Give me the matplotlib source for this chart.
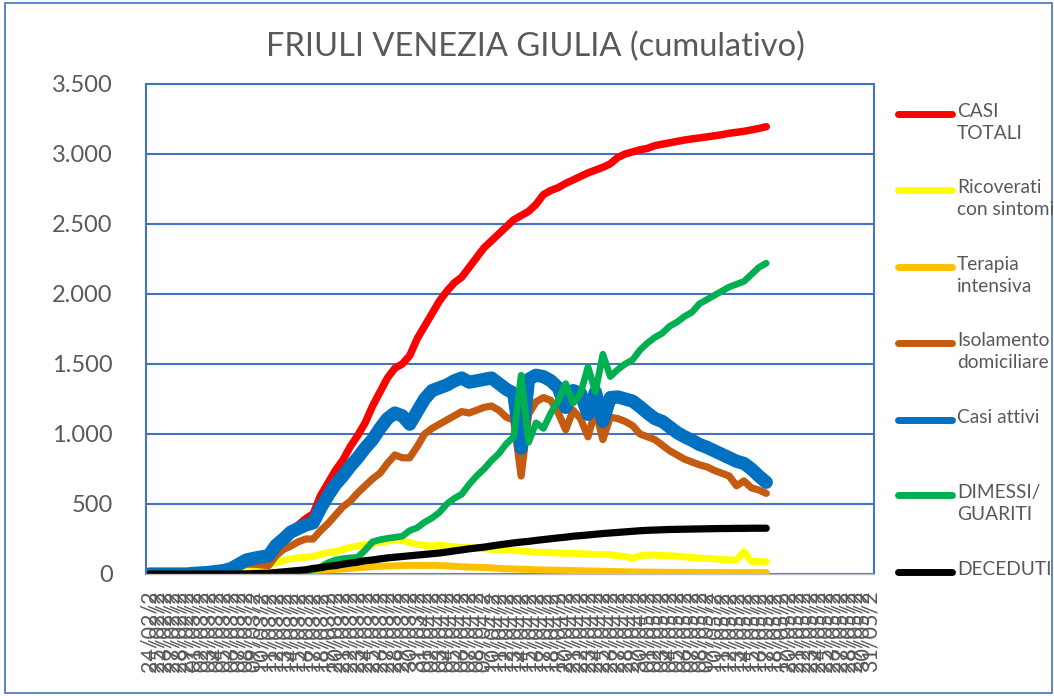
import pandas as pd
import matplotlib
matplotlib.use("Agg")
from matplotlib import pyplot as plt
from matplotlib.lines import Line2D
from matplotlib.patches import Rectangle
from matplotlib.ticker import FuncFormatter

plt.rcParams['font.family'] = ['Lato', 'DejaVu Sans']

# categories: one per day, 24/02/2020 -> 31/05/2020 (Excel cuts the labels to 7 chars)
dates = pd.date_range("2020-02-24", "2020-05-31", freq="D")
date_labels = [d.strftime("%d/%m/%Y")[:7] for d in dates]

# daily values 24/02 -> 17/05 (84 days)
casi_totali = [0, 0, 0, 0, 0, 0, 5, 8, 12, 18,
               25, 40, 70, 100, 115, 125, 135, 215, 265, 305,
               350, 395, 430, 560, 650, 740, 814, 910, 990, 1080,
               1200, 1300, 1400, 1470, 1500, 1560, 1680, 1770, 1860, 1950,
               2020, 2080, 2120, 2190, 2260, 2330, 2380, 2430, 2480, 2530,
               2560, 2590, 2640, 2710, 2740, 2760, 2790, 2815, 2840, 2865,
               2885, 2905, 2930, 2975, 3000, 3015, 3030, 3040, 3060, 3070,
               3080, 3090, 3100, 3108, 3115, 3122, 3130, 3138, 3148, 3155,
               3162, 3172, 3183, 3195]
ricoverati = [0, 0, 0, 0, 0, 0, 0, 0, 1, 2,
              3, 5, 10, 25, 40, 55, 70, 80, 95, 110,
              115, 120, 125, 140, 152, 160, 175, 190, 200, 210,
              219, 225, 235, 243, 240, 225, 210, 205, 200, 207,
              200, 195, 190, 190, 185, 180, 178, 175, 171, 168,
              165, 160, 155, 155, 152, 150, 148, 148, 145, 142,
              140, 140, 138, 130, 125, 112, 130, 136, 135, 132,
              131, 128, 122, 118, 114, 112, 108, 104, 100, 100,
              160, 90, 88, 88]
terapia = [0, 0, 0, 0, 0, 0, 0, 0, 0, 0,
           0, 0, 0, 0, 5, 8, 10, 12, 15, 18,
           20, 22, 25, 28, 30, 33, 36, 40, 45, 48,
           52, 55, 57, 58, 60, 61, 61, 60, 62, 60,
           58, 55, 52, 50, 48, 46, 44, 40, 38, 36,
           34, 33, 30, 29, 28, 27, 26, 24, 23, 22,
           21, 19, 18, 17, 16, 15, 14, 14, 13, 13,
           12, 12, 12, 12, 11, 11, 11, 11, 10, 10,
           10, 10, 10, 10]
isolamento = [0, 0, 0, 0, 0, 0, 3, 5, 8, 12,
              18, 30, 50, 70, 70, 65, 60, 130, 175, 200,
              230, 250, 250, 310, 360, 420, 480, 520, 580, 630,
              680, 720, 790, 850, 830, 830, 910, 1000, 1040, 1070,
              1100, 1130, 1160, 1150, 1170, 1190, 1200, 1170, 1120, 1100,
              700, 1140, 1230, 1260, 1240, 1150, 1030, 1170, 1110, 980,
              1170, 960, 1120, 1110, 1090, 1060, 1000, 980, 960, 920,
              880, 850, 820, 800, 780, 765, 740, 720, 700, 630,
              665, 615, 600, 576]
casi_attivi = [0, 0, 0, 0, 0, 0, 5, 8, 12, 18,
               25, 40, 70, 100, 112, 122, 130, 205, 250, 300,
               325, 350, 365, 470, 560, 640, 700, 770, 830, 900,
               960, 1040, 1110, 1150, 1130, 1070, 1160, 1250, 1310, 1330,
               1350, 1380, 1400, 1370, 1380, 1390, 1400, 1360, 1320, 1290,
               900, 1390, 1420, 1410, 1380, 1330, 1190, 1310, 1290, 1140,
               1300, 1090, 1260, 1265, 1250, 1235, 1195, 1150, 1110, 1090,
               1050, 1010, 980, 955, 925, 905, 880, 855, 830, 805,
               790, 750, 700, 655]
dimessi = [0, 0, 0, 0, 0, 0, 0, 0, 0, 0,
           0, 0, 0, 0, 0, 0, 0, 0, 0, 5,
           10, 20, 30, 50, 80, 100, 110, 115, 120, 170,
           230, 245, 255, 262, 270, 310, 330, 370, 400, 440,
           500, 540, 570, 640, 700, 750, 810, 860, 930, 980,
           1420, 940, 1080, 1040, 1150, 1240, 1360, 1220, 1290, 1480,
           1300, 1570, 1410, 1460, 1500, 1530, 1600, 1650, 1690, 1720,
           1770, 1800, 1840, 1870, 1930, 1960, 1990, 2020, 2050, 2070,
           2090, 2140, 2190, 2220]
deceduti = [0, 0, 0, 0, 0, 0, 0, 0, 0, 0,
            0, 0, 0, 0, 2, 4, 5, 10, 15, 20,
            25, 30, 40, 45, 55, 60, 70, 78, 85, 95,
            100, 108, 115, 120, 125, 130, 135, 140, 145, 150,
            157, 165, 172, 180, 186, 192, 200, 208, 215, 222,
            228, 233, 240, 246, 252, 258, 263, 270, 274, 279,
            284, 289, 293, 297, 301, 305, 309, 312, 314, 316,
            318, 319, 320, 321, 322, 323, 324, 325, 325, 326,
            326, 327, 327, 327]

series_names = ["CASI\nTOTALI", "Ricoverati\ncon sintomi", "Terapia\nintensiva",
                "Isolamento\ndomiciliare", "Casi attivi", "DIMESSI/\nGUARITI", "DECEDUTI"]
series_values = [casi_totali, ricoverati, terapia, isolamento, casi_attivi, dimessi, deceduti]
series_colors = ["#FF0000", "#FFFF00", "#FFC000", "#C55A11", "#0070C0", "#00B050", "#000000"]
series_widths = [5.4, 5.0, 5.0, 5.2, 9.5, 4.8, 5.2]

W, H = 1054, 696
grid_blue = "#4472C4"
text_gray = "#595959"


def fx(px):
    return px / W


def fy(py):
    return 1 - py / H


fig = plt.figure(figsize=(W / 100, H / 100), dpi=100)
ax = fig.add_axes([fx(146), fy(574), fx(874) - fx(146), fy(84) - fy(574)])

for vals, col, lw in zip(series_values, series_colors, series_widths):
    ax.plot(range(len(vals)), vals, color=col, lw=lw,
            solid_capstyle="round", solid_joinstyle="round")

ax.set_xlim(-0.5, len(dates) - 0.5)
ax.set_ylim(0, 3500)
ax.set_yticks(range(0, 3501, 500))
ax.yaxis.set_major_formatter(FuncFormatter(lambda v, p: f"{int(v):,}".replace(",", ".")))
ax.set_xticks(range(len(dates)))
ax.set_xticklabels(date_labels, rotation=90)
ax.tick_params(axis="y", length=0, pad=24, labelsize=17, labelcolor=text_gray)
ax.tick_params(axis="x", length=0, pad=12, labelsize=15.5, labelcolor=text_gray)
ax.grid(axis="y", color=grid_blue, lw=1.5)
ax.set_axisbelow(True)
for side in ["left", "top", "right"]:
    ax.spines[side].set_color(grid_blue)
    ax.spines[side].set_linewidth(1.5)
ax.spines["bottom"].set_color("#BFBFBF")
ax.spines["bottom"].set_linewidth(1.0)

fig.text(fx(535), fy(47), "FRIULI VENEZIA GIULIA (cumulativo)", ha="center", va="center",
         fontsize=23.5, color=text_gray)

# legend on the right, drawn by hand like the Excel one
legend_y = [114, 190, 267, 343, 420, 495, 572]
for name, col, ly in zip(series_names, series_colors, legend_y):
    fig.add_artist(Line2D([fx(898), fx(952)], [fy(ly), fy(ly)], color=col, lw=5,
                          solid_capstyle="round"))
    fig.text(fx(957), fy(ly - 11), name, ha="left", va="top", fontsize=13.8,
             color=text_gray, linespacing=1.35)

fig.add_artist(Rectangle((fx(5), fy(693)), fx(1052) - fx(5), fy(3) - fy(693),
                         transform=fig.transFigure, fill=False, ec=grid_blue, lw=1.2))

fig.savefig("out.png", dpi=100)
